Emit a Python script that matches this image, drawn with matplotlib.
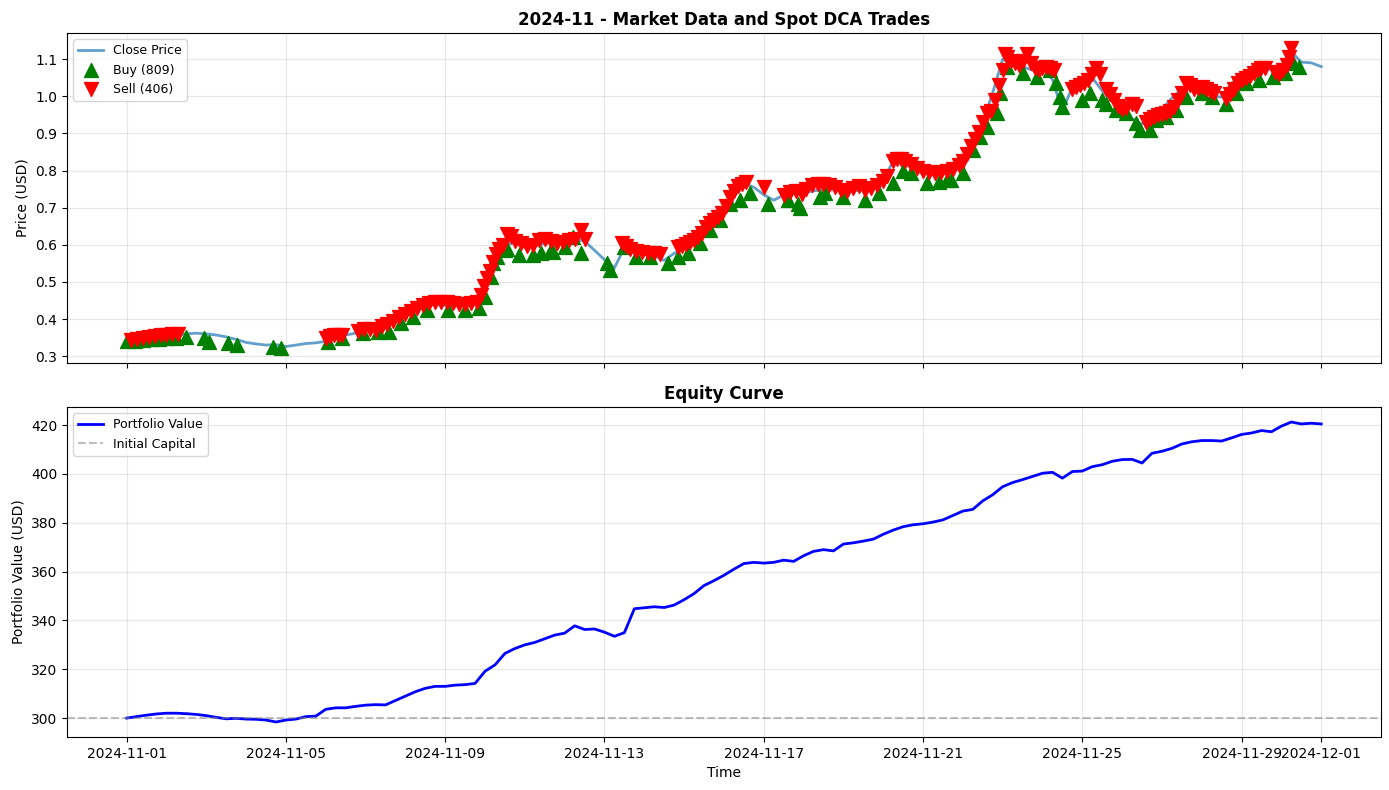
import numpy as np
import pandas as pd
import matplotlib
matplotlib.use("Agg")
import matplotlib.pyplot as plt

START = "2024-11-01"

# Close price, sampled every 6 hours (Nov 1 00:00 -> Dec 1 00:00)
close_price = [
    0.338, 0.342, 0.345, 0.350, 0.355, 0.358, 0.360, 0.362,
    0.360, 0.357, 0.352, 0.345, 0.337, 0.333, 0.330, 0.331,
    0.326, 0.330, 0.334, 0.336, 0.340, 0.350, 0.357, 0.362,
    0.368, 0.372, 0.380, 0.392, 0.408, 0.422, 0.434, 0.440,
    0.438, 0.436, 0.437, 0.448, 0.480, 0.555, 0.600, 0.605,
    0.594, 0.598, 0.603, 0.606, 0.605, 0.615, 0.610, 0.585,
    0.560, 0.538, 0.592, 0.577, 0.575, 0.570, 0.558, 0.577,
    0.590, 0.610, 0.640, 0.665, 0.685, 0.745, 0.766, 0.755,
    0.735, 0.720, 0.734, 0.738, 0.740, 0.745, 0.750, 0.748,
    0.747, 0.745, 0.748, 0.755, 0.775, 0.825, 0.820, 0.805,
    0.793, 0.790, 0.795, 0.810, 0.835, 0.885, 0.930, 1.010,
    1.100, 1.090, 1.080, 1.070, 1.080, 1.045, 0.960, 1.025,
    1.030, 1.050, 1.015, 0.985, 0.970, 0.940, 0.925, 0.950,
    0.965, 0.995, 1.020, 1.025, 1.020, 1.000, 0.998, 1.035,
    1.058, 1.068, 1.078, 1.072, 1.082, 1.120, 1.092, 1.090,
    1.080,
]

# Portfolio value, same sampling
portfolio_value = [
    300.0, 300.6, 301.2, 301.7, 302.0, 302.0, 301.8, 301.5,
    301.0, 300.3, 299.7, 299.9, 299.6, 299.5, 299.2, 298.4,
    299.2, 299.6, 300.6, 300.8, 303.6, 304.2, 304.2, 304.8,
    305.3, 305.5, 305.4, 307.2, 309.0, 310.8, 312.2, 313.0,
    313.0, 313.5, 313.7, 314.2, 319.2, 321.8, 326.5, 328.5,
    330.0, 331.0, 332.5, 334.0, 334.8, 337.8, 336.3, 336.5,
    335.2, 333.5, 335.0, 344.8, 345.2, 345.6, 345.3, 346.3,
    348.5, 351.0, 354.3, 356.3, 358.5, 361.0, 363.3, 363.8,
    363.5, 363.8, 364.7, 364.2, 366.5, 368.3, 369.0, 368.5,
    371.3, 371.8, 372.5, 373.3, 375.3, 377.0, 378.4, 379.2,
    379.6, 380.3, 381.2, 383.0, 384.8, 385.5, 389.0, 391.5,
    394.8, 396.5, 397.7, 399.0, 400.3, 400.7, 398.3, 401.0,
    401.2, 403.0, 403.8, 405.2, 405.9, 406.0, 404.5, 408.5,
    409.3, 410.5, 412.3, 413.2, 413.7, 413.7, 413.5, 414.8,
    416.2, 416.8, 417.8, 417.3, 419.6, 421.3, 420.5, 420.8,
    420.5,
]

initial_capital = 300
n_buys = 809
n_sells = 406

# Buy trades (day offset from Nov 1, price)
buy_days = [
    0.0, 0.2, 0.4, 0.6, 0.8, 1.0, 1.25, 1.5, 1.93, 2.08, 2.55, 2.76, 3.68, 3.88,
    5.06, 5.4, 5.94, 6.3, 6.6, 6.9, 7.2, 7.55, 8.06, 8.5, 8.85, 9.0, 9.15, 9.2,
    9.3, 9.5, 9.55, 9.85, 10.2, 10.4, 10.65, 10.7, 11.0, 11.2, 11.4, 12.07, 12.15,
    12.5, 12.8, 13.15, 13.6, 13.85, 14.1, 14.4, 14.65, 14.9, 15.15, 15.4, 15.65,
    16.1, 16.6, 16.85, 16.9, 17.4, 17.55, 18.0, 18.55, 18.9, 19.25, 19.5, 19.7,
    20.1, 20.4, 20.6, 20.7, 21.0, 21.25, 21.43, 21.6, 21.85, 21.93, 22.1, 22.5,
    22.85, 23.2, 23.35, 23.45, 23.5, 24.0, 24.2, 24.5, 24.6, 24.85, 25.1, 25.35,
    25.45, 25.7, 25.85, 26.1, 26.35, 26.6, 27.0, 27.25, 27.6, 27.85, 28.1, 28.45,
    28.8, 29.1, 29.3, 29.45,
]
buy_prices = [
    0.340, 0.341, 0.343, 0.345, 0.347, 0.349, 0.350, 0.351, 0.350, 0.338, 0.335,
    0.330, 0.325, 0.322, 0.338, 0.350, 0.362, 0.365, 0.365, 0.390, 0.405, 0.424,
    0.424, 0.424, 0.430, 0.460, 0.513, 0.550, 0.567, 0.585, 0.590, 0.572, 0.572,
    0.577, 0.585, 0.580, 0.594, 0.620, 0.577, 0.550, 0.532, 0.594, 0.567, 0.567,
    0.550, 0.567, 0.577, 0.605, 0.640, 0.667, 0.710, 0.720, 0.740, 0.710, 0.720,
    0.710, 0.700, 0.728, 0.740, 0.728, 0.720, 0.740, 0.766, 0.800, 0.793, 0.766,
    0.770, 0.775, 0.775, 0.793, 0.855, 0.890, 0.917, 0.955, 1.010, 1.080, 1.063,
    1.052, 1.070, 1.035, 0.998, 0.970, 0.990, 1.008, 0.990, 0.980, 0.963, 0.955,
    0.928, 0.910, 0.910, 0.935, 0.945, 0.963, 0.998, 1.008, 0.998, 0.980, 1.008,
    1.035, 1.044, 1.052, 1.063, 1.090, 1.080,
]

# Sell trades (day offset from Nov 1, price)
sell_days = [
    0.1, 0.25, 0.4, 0.55, 0.7, 0.85, 1.0, 1.15, 1.3,
    5.0, 5.1, 5.2, 5.3, 5.4,
    5.8, 5.95, 6.1, 6.25,
    6.4, 6.55, 6.7, 6.85, 7.0, 7.15, 7.3, 7.45, 7.6, 7.75, 7.9, 8.05, 8.2, 8.35,
    8.5, 8.65, 8.8,
    8.9, 8.97, 9.05, 9.12, 9.2, 9.27, 9.35, 9.45,
    9.55, 9.65, 9.75, 9.9, 10.05, 10.2, 10.35, 10.5, 10.65, 10.8, 10.95, 11.1,
    11.25, 11.4, 11.5,
    12.45, 12.55, 12.65, 12.8, 12.95, 13.1, 13.25, 13.4,
    13.85, 13.95, 14.05, 14.15, 14.25, 14.35, 14.45, 14.55, 14.65, 14.75, 14.85,
    14.95, 15.05, 15.15, 15.25, 15.35, 15.45, 15.55,
    16.0, 16.5, 16.65, 16.8, 16.95,
    17.05, 17.2, 17.35, 17.5, 17.65, 17.8, 17.95, 18.1, 18.25, 18.4,
    18.55, 18.7, 18.85, 19.0, 19.1,
    19.25, 19.35, 19.45, 19.55, 19.7, 19.85,
    20.0, 20.15, 20.3, 20.45, 20.6, 20.75,
    20.9, 21.0, 21.1, 21.2, 21.3, 21.4, 21.5, 21.6,
    21.7, 21.8, 21.9, 22.0, 22.05,
    22.1, 22.2, 22.3, 22.4, 22.5, 22.6, 22.7, 22.8, 22.9, 23.0, 23.1, 23.2, 23.3,
    23.75, 23.85, 23.95, 24.05, 24.15, 24.25, 24.35, 24.45,
    24.6, 24.7, 24.8, 24.9, 25.0, 25.1, 25.25, 25.35,
    25.6, 25.7, 25.8, 25.9, 26.0, 26.1, 26.2, 26.3,
    26.4, 26.5, 26.6, 26.7, 26.8, 26.9, 27.0, 27.1, 27.2, 27.3,
    27.6, 27.7, 27.8, 27.9, 28.0, 28.1, 28.2, 28.3, 28.4, 28.5, 28.6,
    28.85, 28.95, 29.05, 29.15, 29.2, 29.25,
]
sell_prices = [
    0.343, 0.346, 0.349, 0.352, 0.355, 0.357, 0.358, 0.359, 0.360,
    0.348, 0.355, 0.358, 0.358, 0.357,
    0.368, 0.372, 0.373, 0.370,
    0.382, 0.388, 0.396, 0.405, 0.414, 0.422, 0.430, 0.437, 0.443, 0.447, 0.447,
    0.445, 0.442, 0.440, 0.440, 0.442, 0.445,
    0.465, 0.490, 0.510, 0.530, 0.555, 0.575, 0.590, 0.600,
    0.630, 0.625, 0.610, 0.605, 0.598, 0.600, 0.612, 0.615, 0.610, 0.605, 0.608,
    0.612, 0.615, 0.640, 0.615,
    0.605, 0.598, 0.590, 0.582, 0.580, 0.578, 0.578, 0.575,
    0.595, 0.598, 0.602, 0.608, 0.612, 0.620, 0.632, 0.648, 0.660, 0.668, 0.675,
    0.685, 0.705, 0.730, 0.745, 0.758, 0.765, 0.770,
    0.755, 0.735, 0.742, 0.745, 0.738,
    0.750, 0.760, 0.765, 0.765, 0.762, 0.755, 0.748, 0.745, 0.752, 0.758,
    0.748, 0.752, 0.760, 0.772, 0.785,
    0.825, 0.830, 0.830, 0.825, 0.818, 0.808,
    0.800, 0.795, 0.793, 0.795, 0.800, 0.805,
    0.815, 0.825, 0.845, 0.865, 0.885, 0.905, 0.930, 0.955,
    0.960, 0.990, 1.030, 1.070, 1.115,
    1.105, 1.095, 1.090, 1.085, 1.095, 1.115, 1.090, 1.075, 1.070, 1.075, 1.078,
    1.075, 1.070,
    1.020, 1.025, 1.030, 1.035, 1.045, 1.060, 1.075, 1.060,
    1.020, 1.005, 0.990, 0.975, 0.965, 0.968, 0.980, 0.975,
    0.930, 0.940, 0.945, 0.950, 0.952, 0.955, 0.960, 0.970,
    0.990, 1.010, 1.035, 1.030, 1.020, 1.022, 1.025, 1.020, 1.015, 1.010,
    0.995, 1.005, 1.020, 1.035, 1.045, 1.050, 1.055, 1.062, 1.070, 1.075, 1.075,
    1.065, 1.060, 1.070, 1.085, 1.105, 1.130,
]

# ---- build time axes ----
start = pd.Timestamp(START)
times = pd.date_range(start, periods=len(close_price), freq="6h")
buy_times = start + pd.to_timedelta(buy_days, unit="D")
sell_times = start + pd.to_timedelta(sell_days, unit="D")

fig, (ax1, ax2) = plt.subplots(2, 1, figsize=(13.89, 7.9), dpi=100, sharex=True)
fig.subplots_adjust(left=0.0482, right=0.9942, top=0.9582, bottom=0.0671, hspace=0.1333)

ax1.plot(times, close_price, color="#1f77b4", alpha=0.7, linewidth=2, label="Close Price")
ax1.scatter(buy_times, buy_prices, marker="^", color="green", s=100, zorder=5,
            label=f"Buy ({n_buys})")
ax1.scatter(sell_times, sell_prices, marker="v", color="red", s=100, zorder=5,
            label=f"Sell ({n_sells})")
ax1.set_ylabel("Price (USD)")
ax1.set_title("2024-11 - Market Data and Spot DCA Trades", fontweight="bold", fontsize=12)
ax1.legend(loc="upper left", fontsize=9)
ax1.grid(True, alpha=0.3)

ax2.plot(times, portfolio_value, color="blue", linewidth=2, label="Portfolio Value")
ax2.axhline(initial_capital, color="gray", linestyle="--", alpha=0.5, label="Initial Capital")
ax2.set_ylabel("Portfolio Value (USD)")
ax2.set_xlabel("Time")
ax2.set_title("Equity Curve", fontweight="bold", fontsize=12)
ax2.legend(loc="upper left", fontsize=9)
ax2.grid(True, alpha=0.3)

fig.savefig("out.png", dpi=100)
